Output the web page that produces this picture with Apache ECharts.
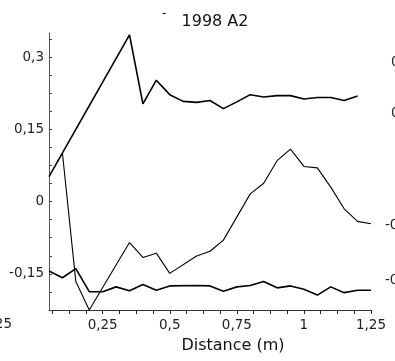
<!DOCTYPE html>
<html>
<head>
<meta charset="utf-8">
<script src="https://cdn.jsdelivr.net/npm/echarts@6/dist/echarts.min.js"></script>
<style>
  html, body { margin: 0; padding: 0; background: #fff; }
  #main { width: 395px; height: 361px; }
</style>
</head>
<body>
<div id="main"></div>
<script type="text/javascript">
	// data: x = distance (m), y = value
	var topX = [0.05, 0.35, 0.4, 0.45, 0.5, 0.55, 0.6, 0.65, 0.7, 0.75, 0.8, 0.85, 0.9, 0.95, 1.0, 1.05, 1.1, 1.15, 1.2];
	var topY = [0.052, 0.346, 0.203, 0.252, 0.222, 0.208, 0.206, 0.21, 0.193, 0.207, 0.222, 0.217, 0.22, 0.22, 0.213, 0.216, 0.216, 0.21, 0.219];

	var midX = [0.1, 0.15, 0.2, 0.35, 0.4, 0.45, 0.5, 0.6, 0.65, 0.7, 0.8, 0.85, 0.9, 0.95, 1.0, 1.05, 1.1, 1.15, 1.2, 1.25];
	var midY = [0.101, -0.166, -0.225, -0.085, -0.116, -0.107, -0.149, -0.113, -0.103, -0.08, 0.016, 0.038, 0.085, 0.109, 0.073, 0.07, 0.03, -0.015, -0.041, -0.046];

	var lowX = [0.05, 0.1, 0.15, 0.2, 0.25, 0.3, 0.35, 0.4, 0.45, 0.5, 0.6, 0.65, 0.7, 0.75, 0.8, 0.85, 0.9, 0.95, 1.0, 1.05, 1.1, 1.15, 1.2, 1.25];
	var lowY = [-0.144, -0.158, -0.139, -0.187, -0.187, -0.177, -0.185, -0.172, -0.184, -0.175, -0.174, -0.175, -0.186, -0.177, -0.174, -0.166, -0.179, -0.175, -0.182, -0.194, -0.177, -0.189, -0.184, -0.184];

	// tick labels
	var xLabels = [0.25, 0.5, 0.75, 1, 1.25];
	var yLabels = [-0.15, 0, 0.15, 0.3];

	function pairs(xs, ys) {
		var out = [];
		for (var i = 0; i < xs.length; i++) out.push([xs[i], ys[i]]);
		return out;
	}
	// minor ticks every 1/16 m on x, 0.0375 on y
	var xTicks = [];
	for (var k = 1; k <= 20; k++) xTicks.push(k * 0.0625);
	var yTicks = [];
	for (var j = -6; j <= 9; j++) yTicks.push(+(j * 0.0375).toFixed(4));

	var fmt = function (v) { return String(+v.toFixed(3)).replace('.', ','); };
	var font = 'DejaVu Sans';

	var chart = echarts.init(document.getElementById('main'));
	var option = {
		animation: false,
		textStyle: { fontFamily: font },
		grid: { left: 49, right: 24, top: 33, bottom: 51 },
		xAxis: {
			type: 'value',
			min: 0.05,
			max: 1.25,
			splitLine: { show: false },
			axisLine: { onZero: false, lineStyle: { color: '#333', width: 1 } },
			axisTick: { show: true, length: 4, customValues: xTicks, lineStyle: { color: '#222', width: 1 } },
			axisLabel: { customValues: xLabels, formatter: fmt, color: '#222', fontSize: 13.5, margin: 8, fontFamily: font }
		},
		yAxis: {
			type: 'value',
			min: -0.225,
			max: 0.35,
			splitLine: { show: false },
			axisLine: { show: true, onZero: false, lineStyle: { color: '#555', width: 1 } },
			axisTick: { show: true, length: 3, inside: true, customValues: yTicks, lineStyle: { color: '#444', width: 1 } },
			axisLabel: { customValues: yLabels, formatter: fmt, color: '#222', fontSize: 13.5, margin: 5, fontFamily: font }
		},
		graphic: [
			{ type: 'text', x: 215, y: 14, style: { text: '1998 A2', fontSize: 16, fontFamily: font, fill: '#111', textAlign: 'center' } },
			{ type: 'text', x: 162, y: 8, style: { text: '-', fontSize: 12, fontFamily: font, fill: '#111' } },
			{ type: 'text', x: 233, y: 338, style: { text: 'Distance (m)', fontSize: 16, fontFamily: font, fill: '#111', textAlign: 'center' } },
			// cut-off labels from neighbouring panels
			{ type: 'text', x: 12, y: 317, style: { text: '1,25', fontSize: 13.5, fontFamily: font, fill: '#222', textAlign: 'right' } },
			{ type: 'text', x: 391, y: 55, style: { text: '0,2', fontSize: 13.5, fontFamily: font, fill: '#222' } },
			{ type: 'text', x: 391, y: 106, style: { text: '0,1', fontSize: 13.5, fontFamily: font, fill: '#222' } },
			{ type: 'text', x: 385, y: 218, style: { text: '-0,1', fontSize: 13.5, fontFamily: font, fill: '#222' } },
			{ type: 'text', x: 385, y: 273, style: { text: '-0,2', fontSize: 13.5, fontFamily: font, fill: '#222' } }
		],
		series: [
			{ type: 'line', data: pairs(topX, topY), symbol: 'none', lineStyle: { color: '#000', width: 1.6 } },
			{ type: 'line', data: pairs(midX, midY), symbol: 'none', lineStyle: { color: '#000', width: 1.1 } },
			{ type: 'line', data: pairs(lowX, lowY), symbol: 'none', lineStyle: { color: '#000', width: 1.6 } }
		]
	};
	chart.setOption(option);
</script>
</body>
</html>
